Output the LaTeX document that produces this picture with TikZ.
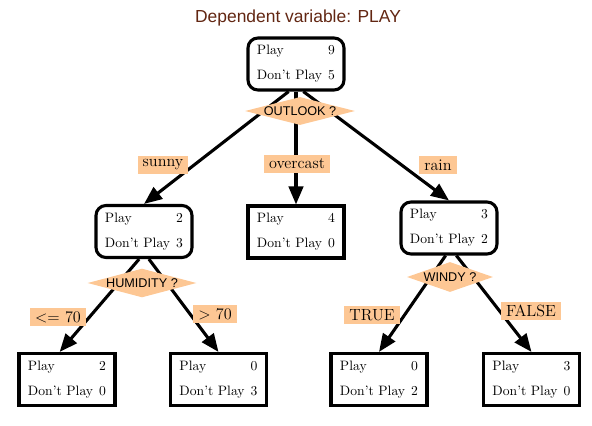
\documentclass[tikz,border=0pt]{standalone}
\usepackage{fontspec}
\newfontfamily\headfont{Liberation Sans}
\usetikzlibrary{arrows.meta,shapes.geometric}
\definecolor{labfill}{RGB}{253,199,148}
\definecolor{titlebrown}{RGB}{98,38,18}

\begin{document}
\begin{tikzpicture}[
  x=0.025cm, y=-0.025cm,
  box/.style={rectangle, draw, line width=2.2pt, fill=white, minimum width=2.4cm,
    minimum height=1.3cm, text width=1.95cm, align=left,
    font=\fontsize{9.7}{17.7}\selectfont},
  roundbox/.style={box, rounded corners=0.25cm},
  test/.style={diamond, fill=labfill, inner sep=0pt},
  testtext/.style={font=\headfont\fontsize{9}{10}\selectfont, inner sep=0pt},
  branch/.style={rectangle, fill=labfill, inner xsep=0.13cm, inner ysep=0pt,
    minimum height=0.43cm, font=\fontsize{11.5}{12}\selectfont},
  edge/.style={line width=2.2pt, -{Triangle[length=0.45cm,width=0.36cm]}}
]
\useasboundingbox (0,0) rectangle (592,426);

% Title
\node[font=\headfont\fontsize{12.4}{14}\selectfont, text=titlebrown] (title) at (298,18) {Dependent variable: PLAY};

% Root
\node[roundbox] (root) at (296,64) {Play\hfill 9\\Don't Play\hfill 5};

% First level
\node[roundbox] (sunny) at (144,231.5) {Play\hfill 2\\Don't Play\hfill 3};
\node[box] (overcast) at (296,232) {Play\hfill 4\\Don't Play\hfill 0};
\node[roundbox] (rain) at (449,228) {Play\hfill 3\\Don't Play\hfill 2};

% Leaves
\node[box] (lowhum) at (67,379.5) {Play\hfill 2\\Don't Play\hfill 0};
\node[box] (highhum) at (218.5,379.5) {Play\hfill 0\\Don't Play\hfill 3};
\node[box] (windy) at (379,379.5) {Play\hfill 0\\Don't Play\hfill 2};
\node[box] (calm) at (531.5,379.5) {Play\hfill 3\\Don't Play\hfill 0};

% Edges
\draw[edge] (root.-105) -- (sunny.north);
\draw[edge] (root.south) -- (overcast.north);
\draw[edge] (root.-75) -- (rain.north);
\draw[edge] (sunny.-100) -- (lowhum.105);
\draw[edge] (sunny.-80) -- (highhum.north);
\draw[edge] (rain.-97) -- (windy.north);
\draw[edge] (rain.-75) -- (calm.north);

% Tests
\node[test, minimum width=2.75cm, minimum height=0.7cm] (outlook) at (300,111) {};
\node[testtext] (outlooktext) at (outlook) {OUTLOOK ?};
\node[test, minimum width=2.72cm, minimum height=0.72cm] (humidity) at (142,283) {};
\node[testtext] (humiditytext) at (humidity) {HUMIDITY ?};
\node[test, minimum width=2.15cm, minimum height=0.75cm] (wind) at (450,277) {};
\node[testtext] (windtext) at (wind) {WINDY ?};

% Branch labels
\node[branch] (lsunny) at (163,165) {sunny};
\node[branch] (lovercast) at (297,164) {overcast};
\node[branch] (lrain) at (438,165) {rain};
\node[branch] (llow) at (58,317) {<= 70};
\node[branch] (lhigh) at (215,314) {> 70};
\node[branch] (ltrue) at (372,315) {TRUE};
\node[branch] (lfalse) at (531,311) {FALSE};

\end{tikzpicture}
\end{document}
